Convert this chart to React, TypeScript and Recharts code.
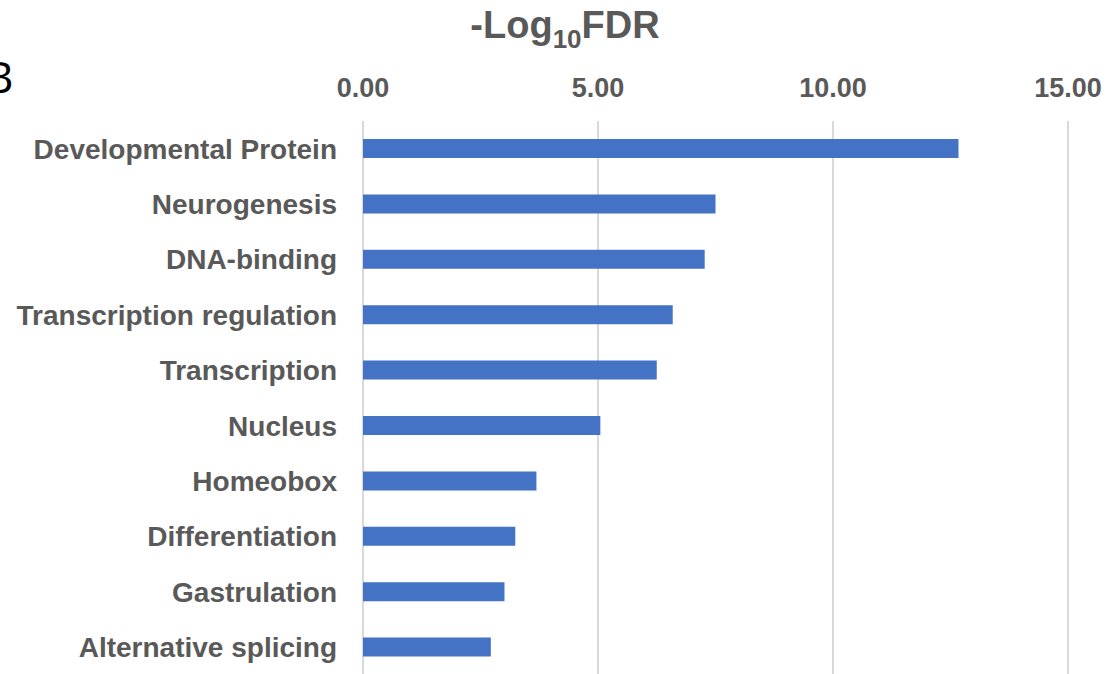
import React from "react";
import { BarChart, Bar, XAxis, YAxis, CartesianGrid } from "recharts";

const categories = [
  "Developmental Protein",
  "Neurogenesis",
  "DNA-binding",
  "Transcription regulation",
  "Transcription",
  "Nucleus",
  "Homeobox",
  "Differentiation",
  "Gastrulation",
  "Alternative splicing",
];
const values = [12.67, 7.5, 7.27, 6.59, 6.25, 5.05, 3.69, 3.24, 3.01, 2.72];
const xTicks = [0, 5, 10, 15];

const data = categories.map((name, i) => ({ name, value: values[i] }));

const FONT = "Liberation Sans, Arial, sans-serif";
const GRAY = "#595959";

const TitleLabel = () => (
  <text x={565} y={38} textAnchor="middle" fontFamily={FONT} fontWeight="bold" fontSize={38} fill={GRAY}>
    -Log
    <tspan fontSize={26} dy={10}>10</tspan>
    <tspan dy={-10}>FDR</tspan>
  </text>
);

export default function App() {
  return (
    <div style={{ position: "absolute", left: 0, top: 0, width: 1107, height: 674, overflow: "hidden", background: "#fff" }}>
      <BarChart
        width={1107}
        height={680}
        data={data}
        layout="vertical"
        margin={{ top: 81, right: 39, bottom: 5, left: 0 }}
        barCategoryGap="33%"
      >
        <CartesianGrid horizontal={false} vertical={true} stroke="#d9d9d9" strokeWidth={2} />
        <XAxis
          type="number"
          orientation="top"
          domain={[0, 15]}
          ticks={xTicks}
          tickFormatter={(v: number) => v.toFixed(2)}
          axisLine={false}
          tickLine={false}
          tickSize={0}
          tickMargin={24}
          height={40}
          tick={{ fontFamily: FONT, fontWeight: "bold", fontSize: 27, fill: GRAY }}
          label={<TitleLabel />}
        />
        <YAxis
          type="category"
          dataKey="name"
          width={363}
          axisLine={false}
          tickLine={false}
          tickSize={0}
          tickMargin={26}
          interval={0}
          tick={{ fontFamily: FONT, fontWeight: "bold", fontSize: 28, fill: GRAY }}
        />
        <Bar dataKey="value" fill="#4472c4" barSize={19} isAnimationActive={false} />
      </BarChart>
      <svg style={{ position: "absolute", left: 0, top: 0, pointerEvents: "none" }} width={60} height={110}>
        <text x={-15} y={92.7} fontFamily="Open Sans, sans-serif" fontSize={44} fill="#000">B</text>
      </svg>
    </div>
  );
}
